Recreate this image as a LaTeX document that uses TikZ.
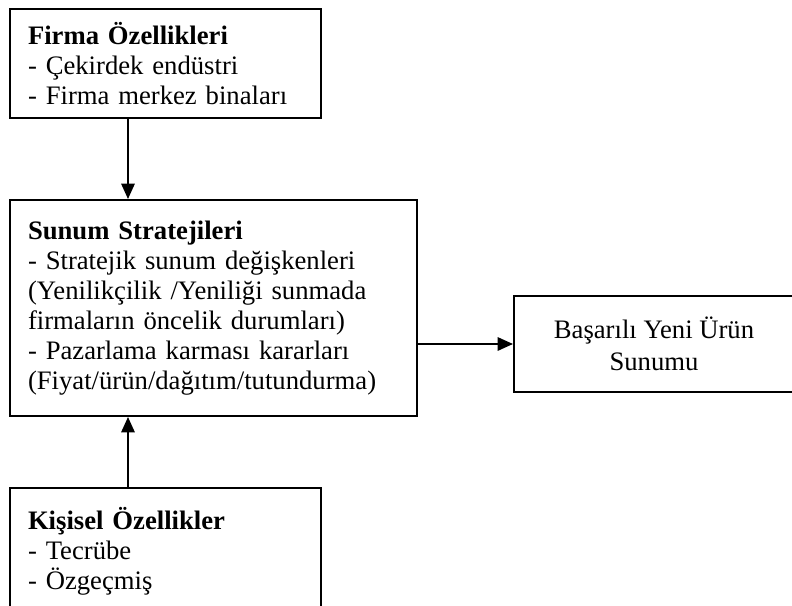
\documentclass[tikz,border=0pt]{standalone}
\usepackage{fontspec}
\setmainfont{Liberation Serif}
\usetikzlibrary{arrows.meta,calc}
\tikzset{
  kutu/.style={draw, line width=1.5pt, inner xsep=13.5pt, inner ysep=0pt,
    font=\fontsize{20pt}{22.5pt}\selectfont},
  solkutu/.style={kutu, anchor=north west, align=left, text width=#1},
  ok/.style={line width=1.5pt, -{Triangle[width=10pt,length=11.5pt]}},
}

\begin{document}
\begin{tikzpicture}[x=0.75pt, y=-0.75pt]
  \useasboundingbox (0,0) rectangle (792,606);
  \clip (0,0) rectangle (792,606);

  % Left column: the two inputs and the strategy box.
  \node[solkutu=206.25pt, minimum height=81.75pt] (firma) at (9,8)
    {\textbf{Firma Özellikleri}\\
     - Çekirdek endüstri\\
     - Firma merkez binaları};
  \node[solkutu=278.25pt, minimum height=162pt] (sunum) at (9,199)
    {\textbf{Sunum Stratejileri}\\
     - Stratejik sunum değişkenleri\\
     (Yenilikçilik /Yeniliği sunmada\\
     firmaların öncelik durumları)\\
     - Pazarlama karması kararları\\
     (Fiyat/ürün/dağıtım/tutundurma)};
  % The lower box runs past the page edge.
  \node[solkutu=206.25pt, minimum height=94.5pt] (kisisel) at (9,487)
    {\textbf{Kişisel Özellikler}\\
     - Tecrübe\\
     - Özgeçmiş};

  % Outcome.
  \node[kutu, anchor=north west, align=center, minimum width=210pt,
    minimum height=72pt, font=\fontsize{20pt}{24pt}\selectfont] (basari)
    at (513,295) {Başarılı Yeni Ürün\\Sunumu};

  \draw[ok] ($(firma.south west)+(119,0)$) -- ($(sunum.north west)+(119,0)$);
  \draw[ok] ($(kisisel.north west)+(119,0)$) -- ($(sunum.south west)+(119,0)$);
  \draw[ok] (sunum.east |- basari.west) -- (basari.west);
\end{tikzpicture}
\end{document}
